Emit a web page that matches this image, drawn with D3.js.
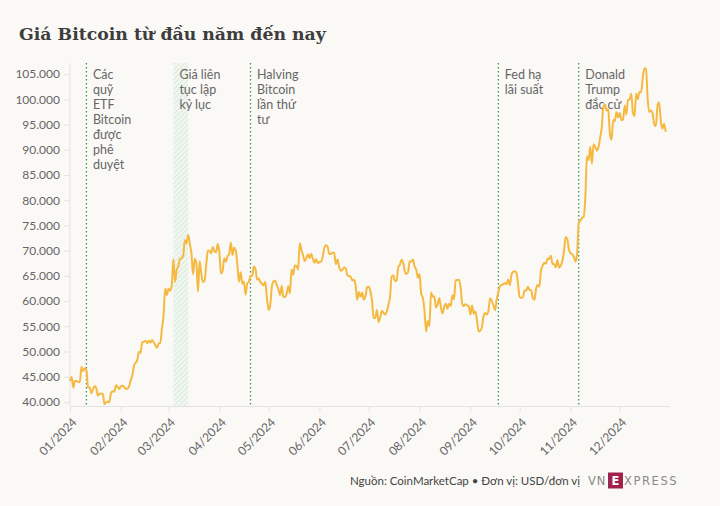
<!DOCTYPE html>
<html>
<head>
<meta charset="utf-8">
<script src="https://cdn.jsdelivr.net/npm/d3@7"></script>
<style>
  html, body { margin: 0; padding: 0; background: #faf9f6; }
  svg { display: block; }
  .axis text { font-family: Lato, "Noto Sans", sans-serif; font-size: 12px; fill: #666; }
  .axis line, .axis path { stroke: #e3e3e3; }
</style>
</head>
<body>
<svg id="chart" width="720" height="506"></svg>
<script>
// giá đóng cửa theo ngày, USD
const jan = [44180,44950,42850,44180,44160,43970,43930,46970,46120,46660,46340,42890,42850,41730,42510,43150,42740,41260,41620,41660,41580,39570,39900,40080,39930,41820,42120,42030,43300,42950,42580]
const feb = [43080,43190,42990,42580,42660,43080,44320,45300,47150,47770,48290,49960,49700,51800,51940,52160,51660,52120,51780,52280,51840,51300,50730,51570,51730,54520,57090,62500,61200]
const mar = [62440,62030,63170,68330,63800,66110,66930,68300,68500,69020,72120,71480,73080,71400,69400,65320,68390,67550,61910,67910,65490,63780,64060,67230,69960,69990,69460,70740,69890,69650,71330]
const apr = [69700,65450,65980,68500,67840,68900,69360,71620,69140,70590,70060,67200,63820,65740,63430,63810,61280,63510,63840,64990,64930,66840,66410,64280,64500,63760,63420,63110,63840,60640]
const may = [58250,59120,62890,63890,64030,63160,62330,61190,63050,60790,60800,61460,62920,61550,66270,65230,67050,66940,66280,71450,70140,69120,67930,68530,69270,68510,69390,68370,67600,68350,67530]
const jun = [67760,67820,68800,70570,71080,70760,69340,69310,69650,69500,67320,68240,66750,66010,66190,66640,66490,65140,64960,64830,64100,64260,63180,60280,61810,60840,61700,60320,60880,62680]
const jul = [62850,62030,60170,56660,56660,58230,55860,56710,58050,57720,57340,57900,59230,60790,64870,65100,64070,63970,66710,67160,68190,67580,65930,65370,65800,67910,67810,68260,66820,66200,64620]
const aug = [65350,61420,60680,58120,53990,56030,55030,61710,60880,60940,58710,59350,60610,58740,57560,58880,59480,58480,59490,59010,61180,60380,64090,64180,64220,62830,59420,59030,59380,59120,58970]
const sep = [57330,59110,57480,57970,56160,53950,54140,54840,57020,57650,57340,58130,60570,60000,59180,58190,60310,61760,62950,63200,63350,63580,63340,64260,63140,65180,65790,65890,65630,63330]
const oct = [60840,60630,60750,62090,62060,62820,62220,62130,60580,60270,62450,63190,62850,66050,67040,67610,67400,68420,68360,69000,67370,67360,66680,68160,66640,67010,67940,69900,72720,72340,70220]
const nov = [69480,69310,68740,67810,69360,75640,75900,76540,76680,80470,88700,87960,90580,87250,91070,90610,89850,90460,92340,94340,98500,98990,97780,98010,93100,91990,95960,95650,97460,96450]
const dec = [97280,95860,96000,98770,97000,99920,99920,101170,97370,96680,101170,100040,101460,101370,104300,106030,106140,100040,97490,97760,97220,95100,94690,98680,99430,95790,94160,95160,93530]
const months = [jan, feb, mar, apr, may, jun, jul, aug, sep, oct, nov, dec]

const yTicks = [40000,45000,50000,55000,60000,65000,70000,75000,80000,85000,90000,95000,100000,105000]

const events = [
  {date: "2024-01-11", lines: ["Các", "quỹ", "ETF", "Bitcoin", "được", "phê", "duyệt"]},
  {date: "2024-04-20", lines: ["Halving", "Bitcoin", "lần thứ", "tư"]},
  {date: "2024-09-18", lines: ["Fed hạ", "lãi suất"]},
  {date: "2024-11-06", lines: ["Donald", "Trump", "đắc cử"]}
]
const band = {from: "2024-03-04", to: "2024-03-13", lines: ["Giá liên", "tục lập", "kỷ lục"]}

const title = "Giá Bitcoin từ đầu năm đến nay"
const source = "Nguồn: CoinMarketCap • Đơn vị: USD/đơn vị"

// --- build data
let data = []
months.forEach(function(arr, m) {
  arr.forEach(function(v, i) { data.push({date: new Date(2024, m, i + 1), value: v}) })
})
const parse = d3.timeParse("%Y-%m-%d")

const svg = d3.select("#chart")
const plotTop = 63, plotBottom = 406, plotLeft = 70, plotRight = 669

const x = d3.scaleTime().domain([new Date(2024, 0, 1), new Date(2024, 11, 31)]).range([plotLeft, plotRight])
const y = d3.scaleLinear().domain([39200, 107200]).range([plotBottom, plotTop])

const vn = d3.formatLocale({decimal: ",", thousands: ".", grouping: [3], currency: ["", ""]})
const fmt = vn.format(",")

svg.append("text")
  .attr("x", 19).attr("y", 40)
  .attr("font-family", "'DejaVu Serif', serif")
  .attr("font-weight", "bold")
  .attr("font-size", 17.3)
  .attr("fill", "#3d3d3d")
  .text(title)

// hatch pattern
const defs = svg.append("defs")
const pat = defs.append("pattern")
  .attr("id", "hatch").attr("patternUnits", "userSpaceOnUse")
  .attr("width", 3.5).attr("height", 3.5)
  .attr("patternTransform", "rotate(45)")
pat.append("rect").attr("width", 3.5).attr("height", 3.5).attr("fill", "#f1f6f0")
pat.append("line").attr("x1", 0).attr("y1", 0).attr("x2", 0).attr("y2", 3.5)
  .attr("stroke", "#d5e8d7").attr("stroke-width", 1.6)

svg.append("rect")
  .attr("x", x(parse(band.from)))
  .attr("y", plotTop)
  .attr("width", x(parse(band.to)) - x(parse(band.from)))
  .attr("height", plotBottom - plotTop)
  .attr("fill", "url(#hatch)")

// axes
const yAxis = svg.append("g")
  .attr("class", "axis")
  .attr("transform", "translate(" + plotLeft + ",0)")
  .call(d3.axisLeft(y).tickValues(yTicks).tickFormat(fmt).tickSize(6).tickPadding(4).tickSizeOuter(0))
yAxis.select(".domain").attr("d", "M0," + plotTop + "V" + plotBottom)

const xAxis = svg.append("g")
  .attr("class", "axis")
  .attr("transform", "translate(0," + plotBottom + ")")
  .call(d3.axisBottom(x).ticks(d3.timeMonth.every(1)).tickFormat(d3.timeFormat("%m/%Y")).tickSize(6).tickSizeOuter(0))
xAxis.selectAll("text")
  .attr("text-anchor", "end")
  .attr("dy", null)
  .attr("y", 0)
  .attr("transform", "translate(7,17) rotate(-45)")

// event lines
events.forEach(function(e) {
  const ex = x(parse(e.date))
  svg.append("line")
    .attr("x1", ex).attr("x2", ex).attr("y1", plotTop).attr("y2", plotBottom)
    .attr("stroke", "#2f9a52").attr("stroke-width", 1.3)
    .attr("stroke-dasharray", "1.5,2.5")
  svg.append("text")
    .attr("x", ex + 6.5).attr("y", 79)
    .attr("font-family", "Lato, 'Noto Sans', sans-serif")
    .attr("font-size", 12.5).attr("fill", "#666")
    .selectAll("tspan").data(e.lines).enter().append("tspan")
    .attr("x", ex + 6.5).attr("dy", function(d, i) { return i ? 15 : 0 })
    .text(function(d) { return d })
})
const bx = x(parse(band.from))
svg.append("text")
  .attr("x", bx + 6).attr("y", 79)
  .attr("font-family", "Lato, 'Noto Sans', sans-serif")
  .attr("font-size", 12.5).attr("fill", "#666")
  .selectAll("tspan").data(band.lines).enter().append("tspan")
  .attr("x", bx + 6).attr("dy", function(d, i) { return i ? 15 : 0 })
  .text(function(d) { return d })

// price line
const line = d3.line()
  .x(function(d) { return x(d.date) })
  .y(function(d) { return y(d.value) })
  .curve(d3.curveMonotoneX)
svg.append("path")
  .datum(data)
  .attr("fill", "none")
  .attr("stroke", "#f5b942")
  .attr("stroke-width", 2)
  .attr("stroke-linejoin", "round")
  .attr("d", line)

// footer
svg.append("text")
  .attr("x", 580).attr("y", 485)
  .attr("text-anchor", "end")
  .attr("font-family", "Lato, 'Noto Sans', sans-serif")
  .attr("font-size", 11.5).attr("fill", "#444")
  .text(source)

const logo = svg.append("g").attr("font-family", "'DejaVu Sans', sans-serif").attr("font-size", 11.5).attr("fill", "#8a8a8a")
logo.append("text").attr("x", 588).attr("y", 485).attr("letter-spacing", 1).text("VN")
logo.append("rect").attr("x", 608).attr("y", 472.5).attr("width", 15).attr("height", 16).attr("fill", "#9f224e")
logo.append("text").attr("x", 615.5).attr("y", 485).attr("text-anchor", "middle").attr("fill", "#fff").attr("font-weight", "bold").text("E")
logo.append("text").attr("x", 624).attr("y", 485).attr("letter-spacing", 1.6).text("XPRESS")
</script>
</body>
</html>
